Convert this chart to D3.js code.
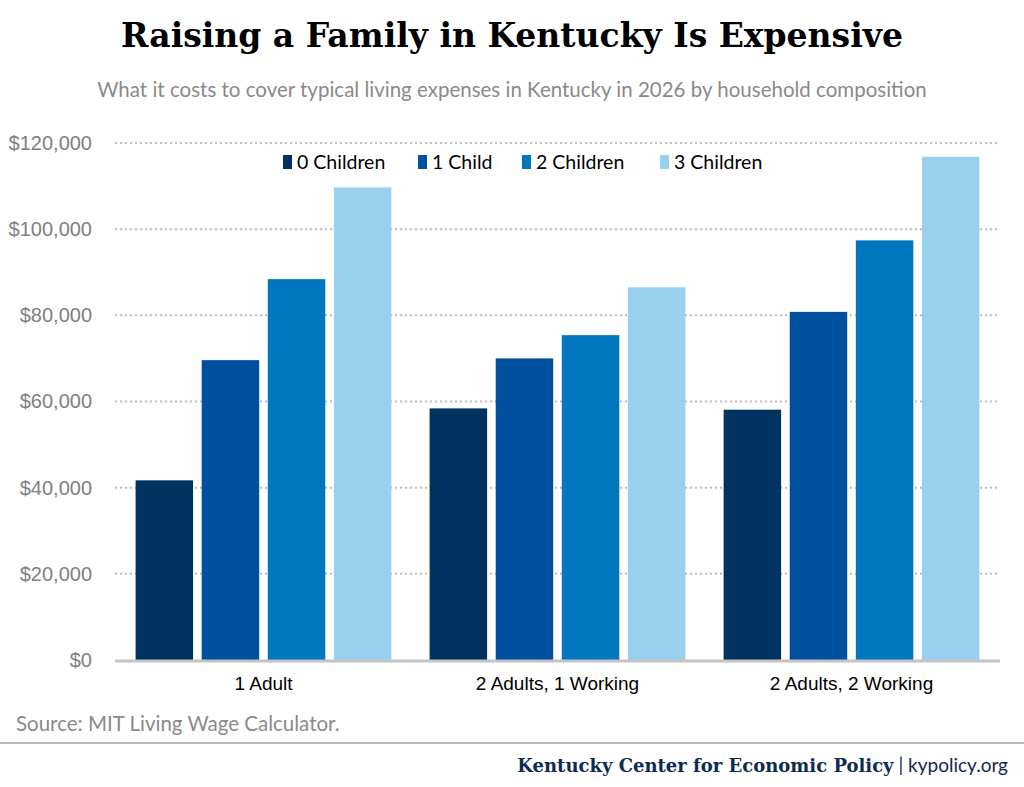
<!DOCTYPE html>
<html><head><meta charset="utf-8">
<script src="https://cdn.jsdelivr.net/npm/d3@7"></script>
<style>body{margin:0;background:#fff}</style>
</head><body><svg id="chart" width="1024" height="787"></svg>
<script>
// data
var groups = ["1 Adult", "2 Adults, 1 Working", "2 Adults, 2 Working"];
var seriesNames = ["0 Children", "1 Child", "2 Children", "3 Children"];
var colors = ["#00335f", "#0050a0", "#0076bf", "#99d0f0"];
var children0 = [41700, 58400, 58100];
var children1 = [69600, 70000, 80800];
var children2 = [88400, 75400, 97400];
var children3 = [109700, 86500, 116800];
var yTicks = [0, 20000, 40000, 60000, 80000, 100000, 120000];

var series = [children0, children1, children2, children3];
var svg = d3.select("#chart"),
	plotLeft = 115, plotRight = 1000, plotTop = 143, plotBottom = 660;

var x = d3.scaleBand().domain(groups).range([plotLeft, plotRight]).paddingInner(0.13).paddingOuter(0.07);
var xi = d3.scaleBand().domain(d3.range(4)).range([0, x.bandwidth()]).paddingInner(0.13);
var y = d3.scaleLinear().domain([0, 120000]).range([plotBottom, plotTop]);

// title + subtitle
svg.append("text").attr("x", 512).attr("y", 47).attr("text-anchor", "middle")
	.style("font", "bold 33px 'DejaVu Serif'").attr("fill", "#000")
	.text("Raising a Family in Kentucky Is Expensive");
svg.append("text").attr("x", 512).attr("y", 97).attr("text-anchor", "middle")
	.style("font", "20.5px Lato").attr("fill", "#8a8a8a")
	.text("What it costs to cover typical living expenses in Kentucky in 2026 by household composition");

// gridlines
svg.append("g").selectAll("line").data(yTicks.slice(1)).enter().append("line")
	.attr("x1", plotLeft).attr("x2", plotRight)
	.attr("y1", function(d) { return y(d); }).attr("y2", function(d) { return y(d); })
	.attr("stroke", "#bdbdbd").attr("stroke-width", 2).attr("stroke-dasharray", "2,3");

// y axis labels
var yAxis = svg.append("g").attr("transform", "translate(" + (plotLeft - 20) + ",0)")
	.call(d3.axisLeft(y).tickValues(yTicks).tickSize(0).tickFormat(function(d) { return "$" + d3.format(",")(d); }));
yAxis.select(".domain").remove();
yAxis.selectAll("text").style("font", "20px 'Liberation Sans'").attr("fill", "#808080");

// bars
svg.append("g").selectAll("g").data(series).enter().append("g")
	.attr("fill", function(d, i) { return colors[i]; })
	.each(function(vals, si) {
		d3.select(this).selectAll("rect").data(vals).enter().append("rect")
			.attr("x", function(d, gi) { return x(groups[gi]) + xi(si); })
			.attr("width", xi.bandwidth())
			.attr("y", function(d) { return y(d); })
			.attr("height", function(d) { return plotBottom - y(d); });
	});

// baseline + x labels
svg.append("line").attr("x1", plotLeft).attr("x2", plotRight).attr("y1", plotBottom + 1).attr("y2", plotBottom + 1)
	.attr("stroke", "#c4c4c4").attr("stroke-width", 3);
var xAxis = svg.append("g").attr("transform", "translate(0," + (plotBottom + 6) + ")")
	.call(d3.axisBottom(x).tickSize(0));
xAxis.select(".domain").remove();
xAxis.selectAll("text").style("font", "19px 'Liberation Sans'").attr("fill", "#000").attr("dy", "1.1em");

// legend
var legX = [283, 418, 522, 660];
var leg = svg.append("g").selectAll("g").data(seriesNames).enter().append("g")
	.attr("transform", function(d, i) { return "translate(" + legX[i] + ",162)"; });
leg.append("rect").attr("x", 0).attr("y", -7).attr("width", 9).attr("height", 14)
	.attr("fill", function(d, i) { return colors[i]; });
leg.append("text").attr("x", 14).attr("dy", "0.35em").style("font", "19.5px Lato").attr("fill", "#000")
	.text(function(d) { return d; });

// source + footer
svg.append("text").attr("x", 16).attr("y", 731).style("font", "20.5px Lato").attr("fill", "#8a8a8a")
	.text("Source: MIT Living Wage Calculator.");
svg.append("line").attr("x1", 0).attr("x2", 1024).attr("y1", 743).attr("y2", 743)
	.attr("stroke", "#bbb").attr("stroke-width", 2);
var foot = svg.append("text").attr("x", 1008).attr("y", 772).attr("text-anchor", "end");
foot.append("tspan").style("font", "bold 18px 'DejaVu Serif'").attr("fill", "#0c2a52")
	.text("Kentucky Center for Economic Policy");
foot.append("tspan").style("font", "19px Lato").attr("fill", "#0c2a52").text(" | kypolicy.org");
</script></body></html>
